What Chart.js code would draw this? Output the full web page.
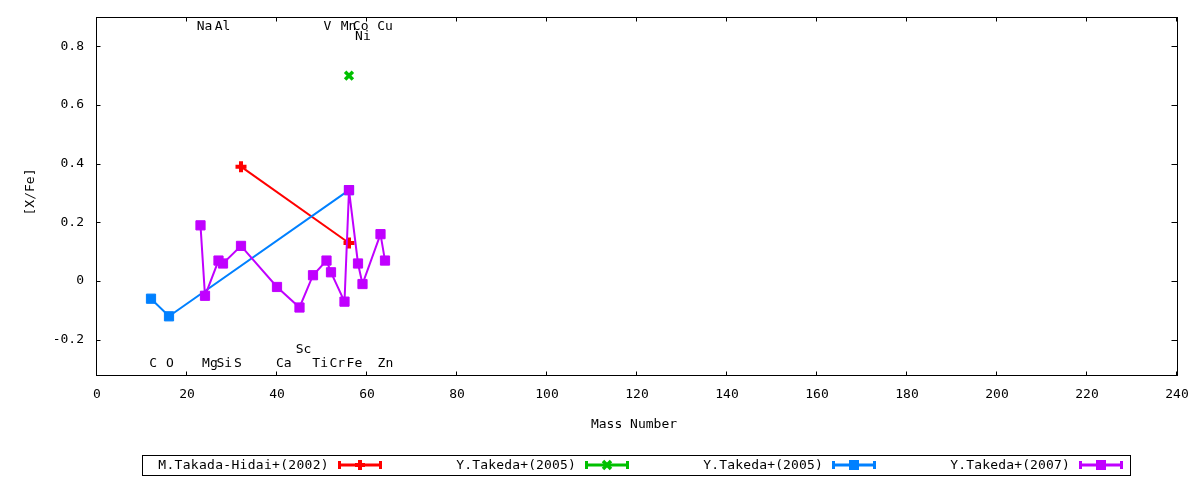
<!DOCTYPE html>
<html><head><meta charset="utf-8">
<script src="https://cdn.jsdelivr.net/npm/chart.js@4.4.0/dist/chart.umd.min.js"></script>
<style>html,body{margin:0;padding:0;background:#fff;} #wrap{width:1200px;height:480px;}</style>
</head><body><div id="wrap"><canvas id="c" width="1200" height="480"></canvas></div>
<script>
// ---- data ----
const seriesNames = ['M.Takada-Hidai+(2002)', 'Y.Takeda+(2005)', 'Y.Takeda+(2005)', 'Y.Takeda+(2007)'];
const takadaHidaiMass = [32, 56];
const takadaHidaiXFe  = [0.39, 0.13];
const takeda2005aMass = [56];
const takeda2005aXFe  = [0.70];
const takeda2005bMass = [12, 16, 56];
const takeda2005bXFe  = [-0.06, -0.12, 0.31];
const takeda2007Mass  = [23, 24, 27, 28, 32, 40, 45, 48, 51, 52, 55, 56, 58, 59, 63, 64];
const takeda2007XFe   = [0.19, -0.05, 0.07, 0.06, 0.12, -0.02, -0.09, 0.02, 0.07, 0.03, -0.07, 0.31, 0.06, -0.01, 0.16, 0.07];
const xTicks = [0, 20, 40, 60, 80, 100, 120, 140, 160, 180, 200, 220, 240];
const yTicks = [-0.2, 0, 0.2, 0.4, 0.6, 0.8];
const elementNames = ['C', 'O', 'Na', 'Mg', 'Al', 'Si', 'S', 'Ca', 'Sc', 'Ti', 'V', 'Cr', 'Mn', 'Fe', 'Co', 'Ni', 'Cu', 'Zn'];
const elementLabelX = [12.5, 16.2, 23.9, 25.1, 27.9, 28.3, 31.3, 41.5, 45.9, 49.6, 51.2, 53.4, 55.9, 57.2, 58.6, 59.1, 64.0, 64.1];
const elementLabelY = [-0.28, -0.28, 0.866, -0.28, 0.866, -0.28, -0.28, -0.28, -0.233, -0.28, 0.866, -0.28, 0.866, -0.28, 0.866, 0.832, 0.866, -0.28];

const zip = (xs, ys) => xs.map((v, i) => ({x: v, y: ys[i]}));
const FONT = '"DejaVu Sans Mono", monospace';
const colors = ['#ff0000', '#00c000', '#0080ff', '#c000ff'];
const styles = ['plus', 'x', 'square', 'square'];

function drawMarker(ctx, style, color, cx, cy) {
  ctx.save();
  ctx.strokeStyle = color; ctx.fillStyle = color;
  if (style === 'plus') {
    ctx.lineWidth = 4;
    ctx.beginPath(); ctx.moveTo(cx - 5, cy); ctx.lineTo(cx + 5, cy);
    ctx.moveTo(cx, cy - 5); ctx.lineTo(cx, cy + 5); ctx.stroke();
  } else if (style === 'x') {
    ctx.lineWidth = 3.5;
    ctx.beginPath(); ctx.moveTo(cx - 4, cy - 4); ctx.lineTo(cx + 4, cy + 4);
    ctx.moveTo(cx + 4, cy - 4); ctx.lineTo(cx - 4, cy + 4); ctx.stroke();
  } else {
    ctx.fillRect(cx - 5, cy - 5, 10, 10);
  }
  ctx.restore();
}

const zeroPad = s => { s.paddingTop = 0; s.paddingBottom = 0; s.paddingLeft = 0; s.paddingRight = 0; };

const framePlugin = {
  id: 'frame',
  afterDraw(chart) {
    const {ctx, chartArea: a, scales: {x, y}} = chart;
    ctx.save();
    ctx.strokeStyle = '#000'; ctx.lineWidth = 1;
    const L = Math.floor(a.left) - 0.5, R = Math.floor(a.right) + 0.5;
    const T = Math.floor(a.top) + 0.5, B = Math.floor(a.bottom) + 0.5;
    ctx.strokeRect(L, T, R - L, B - T);
    ctx.beginPath();
    xTicks.forEach(v => {
      const px = Math.round(x.getPixelForValue(v)) - 0.5;
      ctx.moveTo(px, B); ctx.lineTo(px, B - 4);
      ctx.moveTo(px, T); ctx.lineTo(px, T + 4);
    });
    yTicks.forEach(v => {
      const py = Math.round(y.getPixelForValue(v)) + 0.5;
      ctx.moveTo(L, py); ctx.lineTo(L + 4, py);
      ctx.moveTo(R, py); ctx.lineTo(R - 6, py);
    });
    ctx.stroke();

    // element labels
    ctx.fillStyle = '#000';
    ctx.font = '13px ' + FONT;
    ctx.textAlign = 'center'; ctx.textBaseline = 'middle';
    elementNames.forEach((n, i) => {
      ctx.fillText(n, x.getPixelForValue(elementLabelX[i]), y.getPixelForValue(elementLabelY[i]));
    });

    // axis titles
    ctx.fillText('Mass Number', (a.left + a.right) / 2 - 3, 425);
    ctx.save();
    ctx.translate(31, (a.top + a.bottom) / 2 - 4);
    ctx.rotate(-Math.PI / 2);
    ctx.fillText('[X/Fe]', 0, 0);
    ctx.restore();

    // legend
    ctx.strokeStyle = '#000'; ctx.lineWidth = 1;
    ctx.strokeRect(142.5, 455.5, 988, 20);
    const ly = 465;
    seriesNames.forEach((name, i) => {
      const sx = 338 + 247 * i;
      ctx.fillStyle = '#000';
      ctx.textAlign = 'right';
      ctx.letterSpacing = i === 0 ? '0.3px' : '0.15px';
      ctx.fillText(name, sx - 9, ly + 0.5);
      ctx.letterSpacing = '0px';
      const c = colors[i];
      ctx.strokeStyle = c; ctx.lineWidth = 3;
      ctx.beginPath();
      ctx.moveTo(sx, ly); ctx.lineTo(sx + 44, ly);
      ctx.moveTo(sx + 1.5, ly - 4); ctx.lineTo(sx + 1.5, ly + 4);
      ctx.moveTo(sx + 42.5, ly - 4); ctx.lineTo(sx + 42.5, ly + 4);
      ctx.stroke();
      drawMarker(ctx, styles[i], c, sx + 22, ly);
    });
    ctx.restore();
  }
};

const tickFont = {family: FONT, size: 13};
new Chart(document.getElementById('c').getContext('2d'), {
  type: 'scatter',
  data: {
    datasets: [
      {label: seriesNames[0], data: zip(takadaHidaiMass, takadaHidaiXFe), showLine: true, order: 3,
       borderColor: colors[0], backgroundColor: colors[0], borderWidth: 2,
       pointStyle: 'cross', pointRadius: 5.5, pointBorderWidth: 4},
      {label: seriesNames[1], data: zip(takeda2005aMass, takeda2005aXFe), showLine: true, order: 2,
       borderColor: colors[1], backgroundColor: colors[1], borderWidth: 2,
       pointStyle: 'crossRot', pointRadius: 5.5, pointBorderWidth: 3.5},
      {label: seriesNames[2], data: zip(takeda2005bMass, takeda2005bXFe), showLine: true, order: 1,
       borderColor: colors[2], backgroundColor: colors[2], borderWidth: 2,
       pointStyle: 'rect', pointRadius: 6.5, pointBorderWidth: 1},
      {label: seriesNames[3], data: zip(takeda2007Mass, takeda2007XFe), showLine: true, order: 0,
       borderColor: colors[3], backgroundColor: colors[3], borderWidth: 2,
       pointStyle: 'rect', pointRadius: 6.5, pointBorderWidth: 1}
    ]
  },
  options: {
    responsive: false, animation: false,
    layout: {padding: {top: 17, right: 23, left: 0, bottom: 0}},
    plugins: {legend: {display: false}, tooltip: {enabled: false}},
    scales: {
      x: {
        type: 'linear', min: 0, max: 240,
        afterBuildTicks: s => { s.ticks = xTicks.map(v => ({value: v})); },
        afterFit: s => { s.height = 105; zeroPad(s); },
        grid: {display: false, drawTicks: false}, border: {display: false},
        ticks: {font: tickFont, color: '#000', padding: 12, maxRotation: 0, autoSkip: false, callback: v => String(v)}
      },
      y: {
        type: 'linear', min: -0.32, max: 0.9,
        afterBuildTicks: s => { s.ticks = yTicks.map(v => ({value: v})); },
        afterFit: s => { s.width = 97; zeroPad(s); },
        grid: {display: false, drawTicks: false}, border: {display: false},
        ticks: {font: tickFont, color: '#000', padding: 13, autoSkip: false, callback: v => String(v)}
      }
    }
  },
  plugins: [framePlugin]
});
</script>
</body></html>
